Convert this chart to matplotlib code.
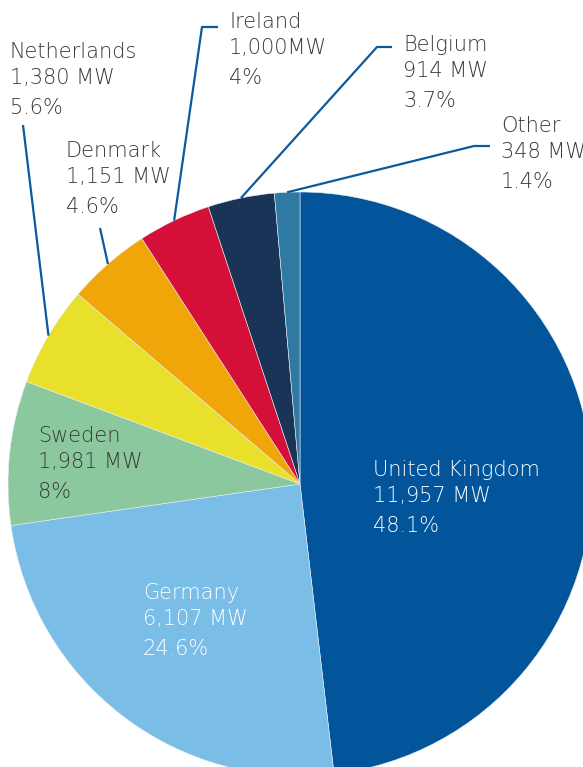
import numpy as np
import matplotlib
matplotlib.use("Agg")
import matplotlib.pyplot as plt

countries = ["United Kingdom", "Germany", "Sweden", "Netherlands", "Denmark", "Ireland", "Belgium", "Other"]
mw_values = [11957, 6107, 1981, 1380, 1151, 1000, 914, 348]
mw_labels = ["11,957 MW", "6,107 MW", "1,981 MW", "1,380 MW", "1,151 MW", "1,000MW", "914 MW", "348 MW"]
pct_labels = ["48.1%", "24.6%", "8%", "5.6%", "4.6%", "4%", "3.7%", "1.4%"]
colors = ["#02559A", "#7ABDE6", "#8CC89E", "#E8E02A", "#F0A608", "#D40F38", "#1A3458", "#2E7AA3"]

W, H = 583, 767
fig = plt.figure(figsize=(W / 100, H / 100), dpi=100)
ax = fig.add_axes([0, 0, 1, 1])

cx, cy, R = 300, H - 484, 292
wedges, _ = ax.pie(mw_values, colors=colors, startangle=90, counterclock=False,
                   center=(cx, cy), radius=R, frame=True,
                   wedgeprops=dict(edgecolor="#e8eef4", linewidth=0.4))
ax.set_xlim(0, W)
ax.set_ylim(0, H)
ax.axis("off")

font = dict(family=["DejaVu Sans"], fontweight="light", fontsize=15)
gray = "#383838"
line_col = "#0B5A9C"

def label(i, x, ytop, color):
    offs = [0, 26, 56]
    texts = [countries[i], mw_labels[i], pct_labels[i]]
    for t, o in zip(texts, offs):
        ax.text(x, H - (ytop + o), t, color=color, va="center", ha="left", **font)

# inside labels
label(0, 373, 470, "white")
label(1, 143, 593, "white")
label(2, 38, 436, gray)

# outside labels: label position, leader start point, horizontal segment end
outside = {
    3: dict(tx=10, ty=52, p=(23, 125), h=None),
    4: dict(tx=66, ty=151, p=(100, 228), h=None),
    5: dict(tx=229, ty=22, p=(202, 27), h=218),
    6: dict(tx=403, ty=45, p=(377, 47), h=392),
    7: dict(tx=501, ty=126, p=(474, 146), h=490),
}
for i, d in outside.items():
    w = wedges[i]
    mid = np.deg2rad((w.theta1 + w.theta2) / 2)
    ex, ey = cx + R * np.cos(mid), cy + R * np.sin(mid)
    px, py = d["p"]
    xs = [ex, px]
    ys = [ey, H - py]
    if d["h"] is not None:
        xs.append(d["h"])
        ys.append(H - py)
    ax.plot(xs, ys, color=line_col, lw=1.6, solid_capstyle="butt", zorder=5)
    label(i, d["tx"], d["ty"], gray)

fig.savefig("out.png", dpi=100)
